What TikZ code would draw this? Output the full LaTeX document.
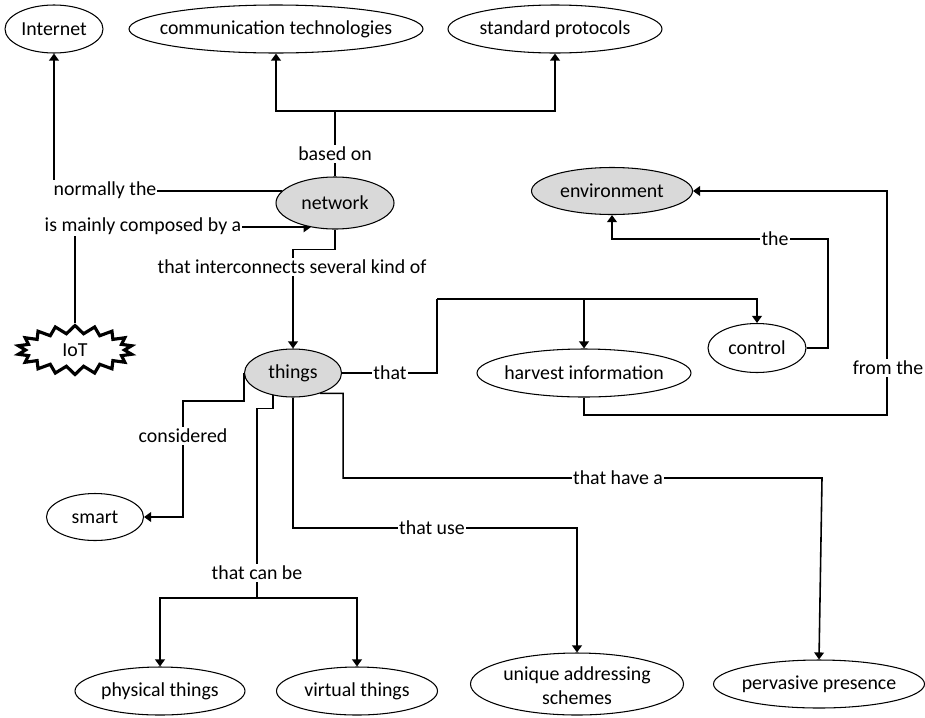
\documentclass[tikz,border=0pt]{standalone}
\usepackage{fontspec}
\setmainfont{Carlito}
\usetikzlibrary{shapes.geometric,shapes.symbols,arrows.meta,backgrounds}
\definecolor{nodegray}{RGB}{217,217,217}
\newcommand{\nodetxt}[1]{\makebox[0pt]{#1}}
\begin{document}
\begin{tikzpicture}[x=0.02cm,y=-0.02cm,
  font=\fontsize{11.3}{13.6}\selectfont,
  ell/.style args={#1/#2}{ellipse, draw, line width=0.6pt, fill=white, inner sep=0pt,
     minimum width=#1*0.02cm, minimum height=#2*0.02cm},
  grayell/.style={fill=nodegray},
  lab/.style={fill=white, inner xsep=0.6pt, inner ysep=1pt},
  conn/.style={line width=0.9pt},
  arr/.style={conn, -{Triangle[length=4pt,width=5.5pt]}}
]
\useasboundingbox (0,0) rectangle (925,717);

% concept nodes
\node[ell=98/48] (internet) at (54,29) {\nodetxt{Internet}};
\node[ell=294/48] (comm) at (276,29) {\nodetxt{communication technologies}};
\node[ell=214/48] (std) at (555,29) {\nodetxt{standard protocols}};
\node[ell=118/52, grayell] (network) at (335,203) {\nodetxt{network}};
\node[ell=161/47, grayell] (env) at (612,191) {\nodetxt{environment}};
\node[ell=98/49] (control) at (757,348) {\nodetxt{control}};
\node[ell=214/48] (harvest) at (584,373) {\nodetxt{harvest information}};
\node[starburst, draw, line width=1.8pt, fill=white, starburst points=18,
      starburst point height=0.16cm, random starburst=0,
      minimum width=2.3cm, minimum height=0.98cm, inner sep=0pt] (iot) at (75,350) {\nodetxt{IoT}};
\node[ell=97/48, grayell] (things) at (293,373) {\nodetxt{things}};
\node[ell=97/47] (smart) at (95,517) {\nodetxt{smart}};
\node[ell=170/48] (phys) at (160,691) {\nodetxt{physical things}};
\node[ell=161/48] (virt) at (357,691) {\nodetxt{virtual things}};
\node[ell=213/62] (unique) at (577,684) {\nodetxt{\raisebox{-5.1pt}[0pt][0pt]{\begin{tabular}{@{}c@{}}unique addressing\\schemes\end{tabular}}}};
\node[ell=211/48] (perv) at (819,684) {\nodetxt{pervasive presence}};

% link labels
\node[lab] (lnormally) at (105,190) {normally the};
\node[lab] (lcomposed) at (143,226) {is mainly composed by a};
\node[lab] (lbased) at (335,154) {based on};
\node[lab] (linter) at (292,267) {that interconnects several kind of};
\node[lab] (lthat) at (390,373) {that};
\node[lab] (lthe) at (775,239) {the};
\node[lab] (lfrom) at (888,368) {from the};
\node[lab] (lconsidered) at (183,436) {considered};
\node[lab] (lcanbe) at (257,573) {that can be};
\node[lab] (luse) at (432,528) {that use};
\node[lab] (lhave) at (618,478) {that have a};

% bend points
\coordinate (cbased) at (335,111);
\coordinate (cthat) at (437,299);
\coordinate (cthe) at (828,239);
\coordinate (cfrom) at (887,415);
\coordinate (csmart) at (183,401);
\coordinate (ccanbe) at (257,598);
\coordinate (cuse) at (577,528);
\coordinate (chave) at (822,478);

\begin{scope}[on background layer]
\draw[arr] (network.167) -| (internet.south);
\draw[arr] (iot.north) |- (network.225);
\draw[conn] (network.north) -- (cbased);
\draw[arr] (cbased) -| (comm.south);
\draw[arr] (cbased) -| (std.south);
\draw[arr] (network.south) -- ++(0,20) -| (things.north);
\draw[conn] (things.east) -| (cthat);
\draw[arr] (cthat) -| (control.north);
\draw[arr] (cthat) -| (harvest.north);
\draw[arr] (control.east) -| (cthe) -| (env.south);
\draw[arr] (harvest.south) |- (cfrom) |- (env.east);
\draw[arr] (things.west) |- (csmart) |- (smart.east);
\draw[conn] (things.228) -- ++(0,13) -| (ccanbe);
\draw[arr] (ccanbe) -| (phys.north);
\draw[arr] (ccanbe) -| (virt.north);
\draw[arr] (things.south) |- (cuse) -- (unique.north);
\draw[arr] (things.323) -- ++(23,0) |- (chave) -- (perv.north);
\end{scope}
\end{tikzpicture}
\end{document}
